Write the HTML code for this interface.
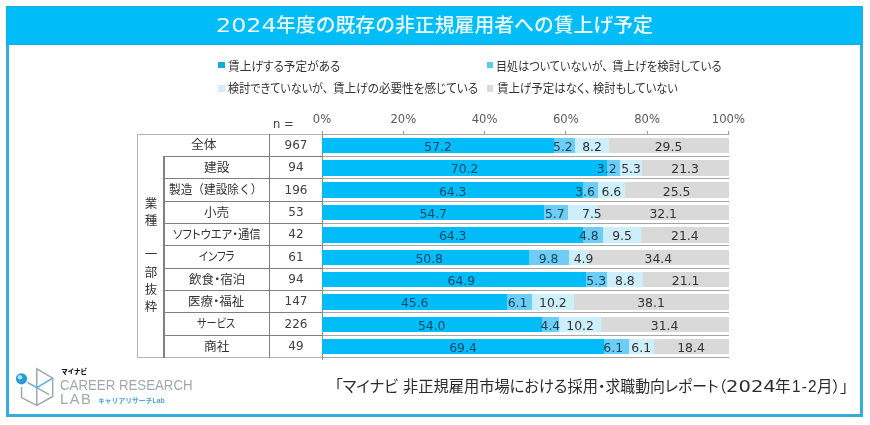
<!DOCTYPE html>
<html lang="ja"><head><meta charset="utf-8"><title>2024年度の既存の非正規雇用者への賃上げ予定</title>
<style>
html,body{margin:0;padding:0;background:#fff}
body{width:870px;height:425px;position:relative;overflow:hidden;font-family:"Liberation Sans","Noto Sans CJK JP",sans-serif;color:#333}
.frame{position:absolute;left:5.7px;top:5.8px;width:851.3px;height:405px;border:3px solid #36acdb;background:#fff}
.head{position:absolute;left:5.7px;top:5.8px;width:857.3px;height:39.3px;background:#00bdf8;box-shadow:inset 0 0 0 1px #1daae0}
.t{position:absolute;white-space:nowrap;line-height:24px;height:24px;transform-origin:0 0}
.num{font-family:"DejaVu Sans","Liberation Sans",sans-serif;font-size:11px;white-space:nowrap}
.mk{position:absolute;width:6.5px;height:6.5px}
.hl{position:absolute;height:1px;background:#808080}
.vl{position:absolute;width:1px;background:#808080}
.n{position:absolute;text-align:center;left:270px;width:52px;height:22px;line-height:22px;color:#404040;font-size:12px}
.ax{position:absolute;top:111.6px;width:40px;text-align:center;height:14px;line-height:14px;color:#595959;font-size:11.6px}
.seg{position:absolute;height:15.4px}
.dl{position:absolute;width:40px;text-align:center;height:16px;line-height:16px;font-size:12.4px}
.vt{position:absolute;left:138px;width:26px;text-align:center;font-size:12.5px;line-height:17.2px;color:#333}
</style></head><body>
<div class="frame"></div>
<div class="head"></div>

<div class="t" style="left:216.22px;top:12.90px;transform:scaleX(1.1760);font-family:'DejaVu Sans','Liberation Sans',sans-serif;font-size:20.3px;font-weight:400;color:#eafaff;">2024</div>
<div class="t" style="left:275.60px;top:12.75px;transform:scaleX(1.0029);font-family:'Liberation Sans','Noto Sans CJK JP',sans-serif;font-size:19.8px;font-weight:500;color:#eafaff;">年度の既存の非正規雇用者への賃上げ予定</div>
<div class="t" style="left:227.66px;top:54.50px;transform:scaleX(0.9402);font-family:'Liberation Sans','Noto Sans CJK JP',sans-serif;font-size:12.4px;font-weight:400;color:#333;font-feature-settings:'palt' 1;">賃上げする予定がある</div>
<div class="t" style="left:496.41px;top:54.50px;transform:scaleX(0.8934);font-family:'Liberation Sans','Noto Sans CJK JP',sans-serif;font-size:12.4px;font-weight:400;color:#333;font-feature-settings:'palt' 1;">目処はついていないが、</div>
<div class="t" style="left:611.57px;top:54.50px;transform:scaleX(0.9328);font-family:'Liberation Sans','Noto Sans CJK JP',sans-serif;font-size:12.4px;font-weight:400;color:#333;font-feature-settings:'palt' 1;">賃上げを検討している</div>
<div class="t" style="left:227.71px;top:77.30px;transform:scaleX(0.8945);font-family:'Liberation Sans','Noto Sans CJK JP',sans-serif;font-size:12.4px;font-weight:400;color:#333;font-feature-settings:'palt' 1;">検討できていないが、</div>
<div class="t" style="left:332.56px;top:77.30px;transform:scaleX(0.9359);font-family:'Liberation Sans','Noto Sans CJK JP',sans-serif;font-size:12.4px;font-weight:400;color:#333;font-feature-settings:'palt' 1;">賃上げの必要性を感じている</div>
<div class="t" style="left:496.68px;top:77.30px;transform:scaleX(0.9245);font-family:'Liberation Sans','Noto Sans CJK JP',sans-serif;font-size:12.4px;font-weight:400;color:#333;font-feature-settings:'palt' 1;">賃上げ予定はなく、</div>
<div class="t" style="left:592.99px;top:77.30px;transform:scaleX(0.9065);font-family:'Liberation Sans','Noto Sans CJK JP',sans-serif;font-size:12.4px;font-weight:400;color:#333;font-feature-settings:'palt' 1;">検討もしていない</div>
<div class="t" style="left:190.93px;top:133.47px;transform:scaleX(1.0727);font-family:'Liberation Sans','Noto Sans CJK JP',sans-serif;font-size:12px;font-weight:400;color:#333;">全体</div>
<div class="t" style="left:203.64px;top:155.82px;transform:scaleX(1.0609);font-family:'Liberation Sans','Noto Sans CJK JP',sans-serif;font-size:12px;font-weight:400;color:#333;">建設</div>
<div class="t" style="left:169.33px;top:178.18px;transform:scaleX(0.9724);font-family:'Liberation Sans','Noto Sans CJK JP',sans-serif;font-size:12px;font-weight:400;color:#333;">製造（建設除く）</div>
<div class="t" style="left:204.45px;top:200.53px;transform:scaleX(1.0500);font-family:'Liberation Sans','Noto Sans CJK JP',sans-serif;font-size:12px;font-weight:400;color:#333;">小売</div>
<div class="t" style="left:172.65px;top:222.88px;transform:scaleX(0.9462);font-family:'Liberation Sans','Noto Sans CJK JP',sans-serif;font-size:12px;font-weight:400;color:#333;font-feature-settings:'palt' 1;">ソフトウエア・通信</div>
<div class="t" style="left:199.24px;top:245.22px;transform:scaleX(0.8615);font-family:'Liberation Sans','Noto Sans CJK JP',sans-serif;font-size:12px;font-weight:400;color:#333;font-feature-settings:'palt' 1;">インフラ</div>
<div class="t" style="left:189.30px;top:267.58px;transform:scaleX(1.0434);font-family:'Liberation Sans','Noto Sans CJK JP',sans-serif;font-size:12px;font-weight:400;color:#333;font-feature-settings:'palt' 1;">飲食・宿泊</div>
<div class="t" style="left:188.26px;top:289.93px;transform:scaleX(1.0434);font-family:'Liberation Sans','Noto Sans CJK JP',sans-serif;font-size:12px;font-weight:400;color:#333;font-feature-settings:'palt' 1;">医療・福祉</div>
<div class="t" style="left:197.05px;top:312.27px;transform:scaleX(0.8512);font-family:'Liberation Sans','Noto Sans CJK JP',sans-serif;font-size:12px;font-weight:400;color:#333;font-feature-settings:'palt' 1;">サービス</div>
<div class="t" style="left:203.64px;top:334.62px;transform:scaleX(1.0609);font-family:'Liberation Sans','Noto Sans CJK JP',sans-serif;font-size:12px;font-weight:400;color:#333;">商社</div>
<div class="t" style="left:335.35px;top:374.60px;transform:scaleX(0.9836);font-family:'Liberation Sans','Noto Sans CJK JP',sans-serif;font-size:15.6px;font-weight:400;color:#2b2b2b;font-feature-settings:'palt' 1;">「マイナビ</div>
<div class="t" style="left:402.52px;top:374.60px;transform:scaleX(0.9772);font-family:'Liberation Sans','Noto Sans CJK JP',sans-serif;font-size:15.6px;font-weight:400;color:#2b2b2b;font-feature-settings:'palt' 1;">非正規雇用市場における採用</div>
<div class="t" style="left:597.79px;top:374.60px;transform:scaleX(0.9545);font-family:'Liberation Sans','Noto Sans CJK JP',sans-serif;font-size:15.6px;font-weight:400;color:#2b2b2b;font-feature-settings:'palt' 1;">・求職動向レポート（</div>
<div class="t" style="left:725.99px;top:375.40px;transform:scaleX(1.2077);font-family:'DejaVu Sans','Liberation Sans',sans-serif;font-size:16.2px;font-weight:400;color:#2b2b2b;">2024</div>
<div class="t" style="left:775.10px;top:374.60px;transform:scaleX(1.0000);font-family:'Liberation Sans','Noto Sans CJK JP',sans-serif;font-size:15.6px;font-weight:400;color:#2b2b2b;">年</div>
<div class="t" style="left:791.56px;top:374.40px;transform:scaleX(0.9375);font-family:'Liberation Sans',sans-serif;font-size:16.4px;font-weight:400;color:#2b2b2b;letter-spacing:1.2px;">1-2</div>
<div class="t" style="left:817.31px;top:374.60px;transform:scaleX(0.9926);font-family:'Liberation Sans','Noto Sans CJK JP',sans-serif;font-size:15.6px;font-weight:400;color:#2b2b2b;font-feature-settings:'palt' 1;">月）」</div>
<div class="t" style="left:61.20px;top:359.85px;transform:scaleX(1.0000);font-family:'Liberation Sans','Noto Sans CJK JP',sans-serif;font-size:6.5px;font-weight:900;color:#111;">マイナビ</div>
<div class="t" style="left:59.79px;top:373.00px;transform:scaleX(0.9140);font-family:'Liberation Sans',sans-serif;font-size:14.5px;font-weight:400;color:#a3a7ab;">CAREER RESEARCH</div>
<div class="t" style="left:59.69px;top:386.80px;transform:scaleX(1.0103);font-family:'Liberation Sans',sans-serif;font-size:14.5px;font-weight:400;color:#a3a7ab;letter-spacing:1.5px;">LAB</div>
<div class="t" style="left:98.09px;top:388.85px;transform:scaleX(1.0092);font-family:'Liberation Sans','Noto Sans CJK JP',sans-serif;font-size:6.75px;font-weight:700;color:#4aa6d8;">キャリアリサーチLab</div>
<div class="mk" style="left:218px;top:61.8px;background:#17a9dc"></div>
<div class="mk" style="left:486.7px;top:61.7px;background:#58c9f1"></div>
<div class="mk" style="left:218px;top:85.2px;background:#d3eefa"></div>
<div class="mk" style="left:486.7px;top:85.2px;background:#d9d9d9"></div>
<div class="num" style="position:absolute;left:273px;top:116.6px;height:14px;line-height:14px;color:#404040;font-size:11.6px">n =</div>
<div class="ax num" style="left:302.0px">0%</div>
<div class="vl" style="left:321.5px;top:130.5px;height:4px;background:#999"></div>
<div class="ax num" style="left:383.3px">20%</div>
<div class="vl" style="left:402.8px;top:130.5px;height:4px;background:#999"></div>
<div class="ax num" style="left:464.6px">40%</div>
<div class="vl" style="left:484.1px;top:130.5px;height:4px;background:#999"></div>
<div class="ax num" style="left:545.8px">60%</div>
<div class="vl" style="left:565.3px;top:130.5px;height:4px;background:#999"></div>
<div class="ax num" style="left:627.1px">80%</div>
<div class="vl" style="left:646.6px;top:130.5px;height:4px;background:#999"></div>
<div class="ax num" style="left:708.4px">100%</div>
<div class="vl" style="left:727.9px;top:130.5px;height:4px;background:#999"></div>
<div class="hl" style="left:137.3px;top:133.60px;width:184.7px;background:#b3b3b3"></div>
<div class="hl" style="left:322.0px;top:133.60px;width:407.0px;background:#a6a6a6"></div>
<div class="hl" style="left:163.4px;top:155.85px;width:158.6px;height:1.2px"></div>
<div class="hl" style="left:322.0px;top:155.95px;width:407.0px;background:#a6a6a6"></div>
<div class="hl" style="left:163.4px;top:178.20px;width:158.6px;height:1.2px"></div>
<div class="hl" style="left:322.0px;top:178.30px;width:407.0px;background:#a6a6a6"></div>
<div class="hl" style="left:163.4px;top:200.55px;width:158.6px;height:1.2px"></div>
<div class="hl" style="left:322.0px;top:200.65px;width:407.0px;background:#a6a6a6"></div>
<div class="hl" style="left:163.4px;top:222.90px;width:158.6px;height:1.2px"></div>
<div class="hl" style="left:322.0px;top:223.00px;width:407.0px;background:#a6a6a6"></div>
<div class="hl" style="left:163.4px;top:245.25px;width:158.6px;height:1.2px"></div>
<div class="hl" style="left:322.0px;top:245.35px;width:407.0px;background:#a6a6a6"></div>
<div class="hl" style="left:163.4px;top:267.60px;width:158.6px;height:1.2px"></div>
<div class="hl" style="left:322.0px;top:267.70px;width:407.0px;background:#a6a6a6"></div>
<div class="hl" style="left:163.4px;top:289.95px;width:158.6px;height:1.2px"></div>
<div class="hl" style="left:322.0px;top:290.05px;width:407.0px;background:#a6a6a6"></div>
<div class="hl" style="left:163.4px;top:312.30px;width:158.6px;height:1.2px"></div>
<div class="hl" style="left:322.0px;top:312.40px;width:407.0px;background:#a6a6a6"></div>
<div class="hl" style="left:163.4px;top:334.65px;width:158.6px;height:1.2px"></div>
<div class="hl" style="left:322.0px;top:334.75px;width:407.0px;background:#a6a6a6"></div>
<div class="hl" style="left:137.3px;top:357.10px;width:184.7px;background:#b3b3b3"></div>
<div class="hl" style="left:322.0px;top:357.10px;width:407.0px;background:#a6a6a6"></div>
<div class="vl" style="left:137.3px;top:133.6px;height:224.5px;background:#b3b3b3"></div>
<div class="vl" style="left:163.3px;top:155.95px;height:202.15px;width:1.3px"></div>
<div class="vl" style="left:269.3px;top:133.6px;height:224.5px"></div>
<div class="vl" style="left:321.5px;top:133.6px;height:226.0px;width:1px;background:#8c8c8c"></div>
<div class="vt" style="top:195.7px">業<br>種<br>&nbsp;<br>一<br>部<br>抜<br>粋</div>
<div class="n num" style="top:133.90px">967</div>
<div class="seg" style="left:322.0px;top:137.78px;width:232.5px;background:#00bcf9"></div>
<div class="seg" style="left:554.2px;top:137.78px;width:21.4px;background:#6dcdf5"></div>
<div class="seg" style="left:575.3px;top:137.78px;width:33.6px;background:#cdeefb"></div>
<div class="seg" style="left:608.6px;top:137.78px;width:120.1px;background:#d9d9d9"></div>
<div class="dl num" style="left:418.1px;top:138.88px;color:#0c4966">57.2</div>
<div class="dl num" style="left:542.8px;top:138.88px;color:#12455c">5.2</div>
<div class="dl num" style="left:572.0px;top:138.88px;color:#333">8.2</div>
<div class="dl num" style="left:648.5px;top:138.88px;color:#333">29.5</div>
<div class="n num" style="top:156.25px">94</div>
<div class="seg" style="left:322.0px;top:160.12px;width:285.6px;background:#00bcf9"></div>
<div class="seg" style="left:607.3px;top:160.12px;width:13.3px;background:#6dcdf5"></div>
<div class="seg" style="left:620.3px;top:160.12px;width:21.8px;background:#cdeefb"></div>
<div class="seg" style="left:641.8px;top:160.12px;width:86.9px;background:#d9d9d9"></div>
<div class="dl num" style="left:444.6px;top:161.22px;color:#0c4966">70.2</div>
<div class="dl num" style="left:586.7px;top:161.22px;color:#12455c">3.2</div>
<div class="dl num" style="left:611.1px;top:161.22px;color:#333">5.3</div>
<div class="dl num" style="left:665.1px;top:161.22px;color:#333">21.3</div>
<div class="n num" style="top:178.60px">196</div>
<div class="seg" style="left:322.0px;top:182.48px;width:261.6px;background:#00bcf9"></div>
<div class="seg" style="left:583.3px;top:182.48px;width:14.9px;background:#6dcdf5"></div>
<div class="seg" style="left:597.9px;top:182.48px;width:27.1px;background:#cdeefb"></div>
<div class="seg" style="left:624.8px;top:182.48px;width:103.9px;background:#d9d9d9"></div>
<div class="dl num" style="left:432.7px;top:183.58px;color:#0c4966">64.3</div>
<div class="dl num" style="left:565.1px;top:183.58px;color:#12455c">3.6</div>
<div class="dl num" style="left:591.4px;top:183.58px;color:#333">6.6</div>
<div class="dl num" style="left:656.6px;top:183.58px;color:#333">25.5</div>
<div class="n num" style="top:200.95px">53</div>
<div class="seg" style="left:322.0px;top:204.83px;width:222.6px;background:#00bcf9"></div>
<div class="seg" style="left:544.3px;top:204.83px;width:23.5px;background:#6dcdf5"></div>
<div class="seg" style="left:567.5px;top:204.83px;width:30.8px;background:#cdeefb"></div>
<div class="seg" style="left:597.9px;top:204.83px;width:130.8px;background:#d9d9d9"></div>
<div class="dl num" style="left:413.2px;top:205.93px;color:#0c4966">54.7</div>
<div class="dl num" style="left:534.8px;top:205.93px;color:#12455c">5.7</div>
<div class="dl num" style="left:571.9px;top:205.93px;color:#333">7.5</div>
<div class="dl num" style="left:643.2px;top:205.93px;color:#333">32.1</div>
<div class="n num" style="top:223.30px">42</div>
<div class="seg" style="left:322.0px;top:227.18px;width:261.6px;background:#00bcf9"></div>
<div class="seg" style="left:583.3px;top:227.18px;width:19.8px;background:#6dcdf5"></div>
<div class="seg" style="left:602.8px;top:227.18px;width:38.9px;background:#cdeefb"></div>
<div class="seg" style="left:641.4px;top:227.18px;width:87.3px;background:#d9d9d9"></div>
<div class="dl num" style="left:432.7px;top:228.28px;color:#0c4966">64.3</div>
<div class="dl num" style="left:568.9px;top:228.28px;color:#12455c">4.8</div>
<div class="dl num" style="left:602.1px;top:228.28px;color:#333">9.5</div>
<div class="dl num" style="left:664.9px;top:228.28px;color:#333">21.4</div>
<div class="n num" style="top:245.65px">61</div>
<div class="seg" style="left:322.0px;top:249.52px;width:207.0px;background:#00bcf9"></div>
<div class="seg" style="left:528.7px;top:249.52px;width:40.2px;background:#6dcdf5"></div>
<div class="seg" style="left:568.5px;top:249.52px;width:20.2px;background:#cdeefb"></div>
<div class="seg" style="left:588.5px;top:249.52px;width:140.2px;background:#d9d9d9"></div>
<div class="dl num" style="left:409.2px;top:250.62px;color:#0c4966">50.8</div>
<div class="dl num" style="left:528.6px;top:250.62px;color:#12455c">9.8</div>
<div class="dl num" style="left:563.6px;top:250.62px;color:#333">4.9</div>
<div class="dl num" style="left:638.4px;top:250.62px;color:#333">34.4</div>
<div class="n num" style="top:268.00px">94</div>
<div class="seg" style="left:322.0px;top:271.88px;width:263.8px;background:#00bcf9"></div>
<div class="seg" style="left:585.5px;top:271.88px;width:21.8px;background:#6dcdf5"></div>
<div class="seg" style="left:607.0px;top:271.88px;width:36.0px;background:#cdeefb"></div>
<div class="seg" style="left:642.7px;top:271.88px;width:86.0px;background:#d9d9d9"></div>
<div class="dl num" style="left:441.4px;top:272.98px;color:#0c4966">64.9</div>
<div class="dl num" style="left:576.2px;top:272.98px;color:#12455c">5.3</div>
<div class="dl num" style="left:604.9px;top:272.98px;color:#333">8.8</div>
<div class="dl num" style="left:665.6px;top:272.98px;color:#333">21.1</div>
<div class="n num" style="top:290.35px">147</div>
<div class="seg" style="left:322.0px;top:294.23px;width:185.6px;background:#00bcf9"></div>
<div class="seg" style="left:507.3px;top:294.23px;width:25.1px;background:#6dcdf5"></div>
<div class="seg" style="left:532.1px;top:294.23px;width:41.8px;background:#cdeefb"></div>
<div class="seg" style="left:573.6px;top:294.23px;width:155.1px;background:#d9d9d9"></div>
<div class="dl num" style="left:394.7px;top:295.33px;color:#0c4966">45.6</div>
<div class="dl num" style="left:497.5px;top:295.33px;color:#12455c">6.1</div>
<div class="dl num" style="left:532.8px;top:295.33px;color:#333">10.2</div>
<div class="dl num" style="left:631.0px;top:295.33px;color:#333">38.1</div>
<div class="n num" style="top:312.70px">226</div>
<div class="seg" style="left:322.0px;top:316.57px;width:219.8px;background:#00bcf9"></div>
<div class="seg" style="left:541.5px;top:316.57px;width:18.2px;background:#6dcdf5"></div>
<div class="seg" style="left:559.3px;top:316.57px;width:41.8px;background:#cdeefb"></div>
<div class="seg" style="left:600.8px;top:316.57px;width:127.9px;background:#d9d9d9"></div>
<div class="dl num" style="left:411.7px;top:317.68px;color:#0c4966">54.0</div>
<div class="dl num" style="left:530.4px;top:317.68px;color:#12455c">4.4</div>
<div class="dl num" style="left:560.1px;top:317.68px;color:#333">10.2</div>
<div class="dl num" style="left:644.6px;top:317.68px;color:#333">31.4</div>
<div class="n num" style="top:335.05px">49</div>
<div class="seg" style="left:322.0px;top:338.93px;width:282.3px;background:#00bcf9"></div>
<div class="seg" style="left:604.0px;top:338.93px;width:25.1px;background:#6dcdf5"></div>
<div class="seg" style="left:628.8px;top:338.93px;width:25.1px;background:#cdeefb"></div>
<div class="seg" style="left:653.6px;top:338.93px;width:75.1px;background:#d9d9d9"></div>
<div class="dl num" style="left:443.0px;top:340.03px;color:#0c4966">69.4</div>
<div class="dl num" style="left:593.2px;top:340.03px;color:#12455c">6.1</div>
<div class="dl num" style="left:621.2px;top:340.03px;color:#333">6.1</div>
<div class="dl num" style="left:671.0px;top:340.03px;color:#333">18.4</div>
<svg style="position:absolute;left:8px;top:360px" width="60" height="50" viewBox="8 360 60 50" fill="none" stroke-linecap="butt" stroke-linejoin="miter">
<path d="M36.8 405.3 L36.8 368.8 L52.7 378.2 L52.7 396.5 L36.8 405.3 L21.5 397.6 L21.5 387" stroke="#9fa8b0" stroke-width="1.5"/>
<path d="M36.8 387.6 L49.2 394.7" stroke="#9fa8b0" stroke-width="1.5"/>
<path d="M27.5 382.4 L36.8 387.6 L52.7 378.2" stroke="#4fb2dd" stroke-width="1.5"/>
<circle cx="21.5" cy="378.8" r="5.6" fill="#2a9bd6"/>
<circle cx="19.9" cy="377.3" r="2.3" fill="#aee3f7"/>
</svg>
</body></html>
